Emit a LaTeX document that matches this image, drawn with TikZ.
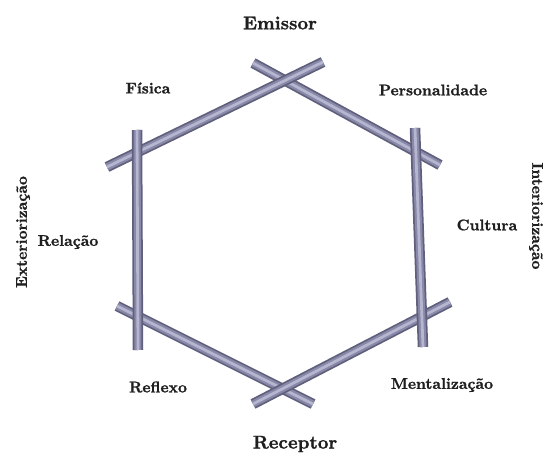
\documentclass[tikz,border=0pt]{standalone}
\usepackage{fontspec}
\newfontfamily\lblfont{lmroman10-bold}[Extension=.otf, FakeBold=1.2]
\definecolor{rodD}{RGB}{96,96,124}
\definecolor{rodM}{RGB}{136,136,168}
\definecolor{rodL}{RGB}{182,182,208}
\tikzset{
  rodbase/.style={line width=10.5pt, draw=rodD},
  rodmid/.style={line width=7pt, draw=rodM},
  rodhi/.style={line width=2.8pt, draw=rodL},
  lbl/.style={font=\lblfont\fontsize{15.5}{18}\selectfont, inner sep=0pt, text=black!88},
  biglbl/.style={font=\lblfont\fontsize{18.5}{21}\selectfont, inner sep=0pt, text=black!88},
}
\newcommand\myrod[2]{%
  \draw[rodbase] (#1) -- (#2);
  \draw[rodmid] (#1) -- (#2);
  \draw[rodhi] (#1) -- (#2);}
\begin{document}
\begin{tikzpicture}[x=1pt,y=-1pt]
\useasboundingbox (0,0) rectangle (544,454);
% rod end points
\coordinate (a1) at (107,167); \coordinate (a2) at (323,62);
\coordinate (b1) at (253,63);  \coordinate (b2) at (440,165);
\coordinate (c1) at (137,130); \coordinate (c2) at (138,350);
\coordinate (d1) at (415,128); \coordinate (d2) at (423,347);
\coordinate (e1) at (117,306); \coordinate (e2) at (313,404);
\coordinate (f1) at (253,404); \coordinate (f2) at (450,302);
\myrod{b1}{b2}
\myrod{a1}{a2}
\myrod{e1}{e2}
\myrod{f1}{f2}
\myrod{c1}{c2}
\myrod{d1}{d2}
% labels
\node[biglbl] (emissor) at (280,23) {Emissor};
\node[biglbl] (receptor) at (295,444) {Receptor};
\node[lbl] (fisica) at (148,88) {Física};
\node[lbl] (personalidade) at (433,90) {Personalidade};
\node[lbl] (relacao) at (68,242) {Relação};
\node[lbl] (cultura) at (487,225) {Cultura};
\node[lbl] (reflexo) at (158,387) {Reflexo};
\node[lbl] (mentalizacao) at (442,385) {Mentalização};
\node[lbl, rotate=90] (exteriorizacao) at (23,232) {Exteriorização};
\node[lbl, rotate=-90] (interiorizacao) at (536,216) {Interiorização};
\end{tikzpicture}
\end{document}
